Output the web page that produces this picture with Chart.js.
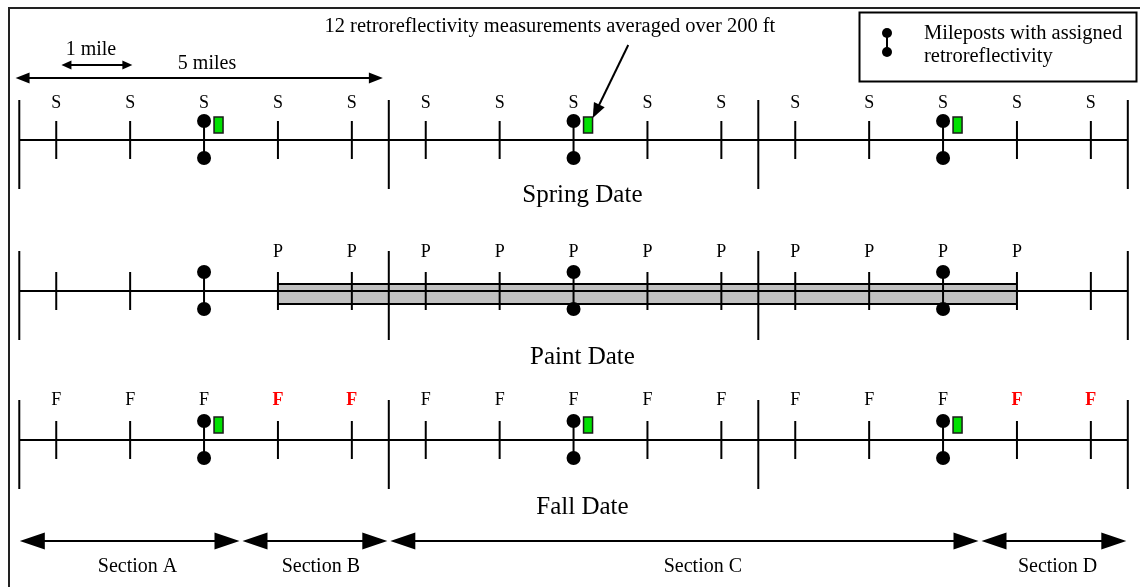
<!DOCTYPE html>
<html><head><meta charset="utf-8">
<script src="https://cdn.jsdelivr.net/npm/chart.js@4/dist/chart.umd.min.js"></script>
<style>html,body{margin:0;padding:0;background:#fff}#wrap{width:1140px;height:587px;position:relative}</style>
</head><body><div id="wrap"><canvas id="c"></canvas></div>
<script>
// ---- data (miles) ----
const sectionBounds = [0, 5, 10, 15];
const mileposts = [0.5,1.5,2.5,3.5,4.5,5.5,6.5,7.5,8.5,9.5,10.5,11.5,12.5,13.5,14.5];
const measuredMileposts = [2.5, 7.5, 12.5];
const springLabels = ['S','S','S','S','S','S','S','S','S','S','S','S','S','S','S'];
const paintLabels  = ['','','','P','P','P','P','P','P','P','P','P','P','P',''];
const fallLabels   = ['F','F','F','F','F','F','F','F','F','F','F','F','F','F','F'];
const fallFlagged  = [3.5, 4.5, 13.5, 14.5];
const paintStart = 3.5, paintEnd = 13.5;
const sectionNames  = ['Section A','Section B','Section C','Section D'];
const sectionStarts = [0, 3, 5, 13];
const sectionEnds   = [3, 5, 13, 15];
const rowTitles = ['Spring Date','Paint Date','Fall Date'];
const oneMileArrow = [0.57, 1.53];
const fiveMileArrow = [-0.05, 4.92];

// ---- layout (pixels on the y scale) ----
const rows = [
  {line:140, labels:springLabels, labelY:103, titleY:195, rect:true},
  {line:291, labels:paintLabels,  labelY:252, titleY:357, rect:false},
  {line:440, labels:fallLabels,   labelY:400, titleY:507, rect:true}
];
const FONT = '"Liberation Serif","Times New Roman",serif';

const datasets = [];
function seg(pts, w, color){
  datasets.push({data:pts, borderColor:color||'#000', borderWidth:w||2, pointRadius:0, fill:false, clip:false, spanGaps:false, tension:0});
}
rows.forEach(r=>{
  // measured milepost dots + connectors
  datasets.push({data:measuredMileposts.flatMap(m=>[{x:m,y:r.line-19},{x:m,y:r.line+18}]), showLine:false,
    pointStyle:'circle', pointRadius:7, pointBackgroundColor:'#000', pointBorderWidth:0, clip:false});
  seg(measuredMileposts.flatMap(m=>[{x:m,y:r.line-19},{x:m,y:r.line+18},{x:m,y:null}]), 2);
  // small ticks
  datasets.push({data:mileposts.filter(m=>!measuredMileposts.includes(m)).map(m=>({x:m,y:r.line})), showLine:false,
    pointStyle:'line', rotation:90, pointRadius:19, pointBorderColor:'#000', pointBorderWidth:2, clip:false});
  // section boundary ticks
  seg(sectionBounds.flatMap(b=>[{x:b,y:r.line-40},{x:b,y:r.line+49},{x:b,y:null}]), 2);
  // main line
  seg([{x:sectionBounds[0],y:r.line},{x:sectionBounds[sectionBounds.length-1],y:r.line}], 2);
});
// paint band (drawn first -> last datasets)
datasets.push({data:[{x:paintStart,y:284},{x:paintEnd,y:284}], borderColor:'#000', borderWidth:2, pointRadius:0, fill:false, clip:false});
datasets.push({data:[{x:paintStart,y:304},{x:paintEnd,y:304}], borderColor:'#000', borderWidth:2, pointRadius:0,
  fill:'-1', backgroundColor:'#c0c0c0', clip:false});

function arrowHead(ctx, tx, ty, dx, dy, len, half){
  const bx = tx - dx*len, by = ty - dy*len;
  ctx.beginPath(); ctx.moveTo(tx,ty);
  ctx.lineTo(bx - dy*half, by + dx*half); ctx.lineTo(bx + dy*half, by - dx*half);
  ctx.closePath(); ctx.fill();
}
function hArrow(ctx, x1, x2, y, len, half, lw){
  ctx.lineWidth = lw; ctx.beginPath(); ctx.moveTo(x1+len*0.6, y); ctx.lineTo(x2-len*0.6, y); ctx.stroke();
  arrowHead(ctx, x1, y, -1, 0, len, half); arrowHead(ctx, x2, y, 1, 0, len, half);
}

const overlay = {
  id:'overlay',
  afterDatasetsDraw(chart){
    const ctx = chart.ctx, xs = chart.scales.x, ys = chart.scales.y;
    const px = v => xs.getPixelForValue(v), py = v => ys.getPixelForValue(v);
    ctx.save();
    ctx.fillStyle = '#000'; ctx.strokeStyle = '#000';
    // frame
    ctx.lineWidth = 2; ctx.strokeStyle = '#222';
    ctx.beginPath(); ctx.moveTo(9, 587); ctx.lineTo(9, 8); ctx.lineTo(1140, 8); ctx.stroke();
    ctx.strokeStyle = '#000';
    // green measurement boxes
    rows.forEach(r=>{
      if(!r.rect) return;
      measuredMileposts.forEach(m=>{
        const cx = px(m) + 14.5, top = py(r.line - 23);
        ctx.fillStyle = '#00e000'; ctx.fillRect(cx-4.5, top, 9, 16);
        ctx.lineWidth = 1.5; ctx.strokeStyle = '#1a1a1a'; ctx.strokeRect(cx-4.5, top, 9, 16);
      });
    });
    ctx.strokeStyle = '#000'; ctx.fillStyle = '#000';
    // milepost labels
    ctx.textAlign = 'center'; ctx.textBaseline = 'middle';
    rows.forEach((r,ri)=>{
      r.labels.forEach((lab,i)=>{
        if(!lab) return;
        const flagged = ri === 2 && fallFlagged.includes(mileposts[i]);
        ctx.font = (flagged ? 'bold ' : '') + '18px ' + FONT;
        ctx.fillStyle = flagged ? '#ff0000' : '#000';
        ctx.fillText(lab, px(mileposts[i]), py(r.labelY));
      });
      ctx.fillStyle = '#000';
      ctx.font = '25px ' + FONT;
      ctx.fillText(rowTitles[ri], px(7.62), py(r.titleY));
    });
    // scale arrows
    hArrow(ctx, px(oneMileArrow[0]), px(oneMileArrow[1]), py(65), 10, 4.5, 2);
    hArrow(ctx, px(fiveMileArrow[0]), px(fiveMileArrow[1]), py(78), 14, 5.5, 2);
    ctx.font = '20px ' + FONT;
    ctx.fillText('1 mile', px(0.97), py(50));
    ctx.fillText('5 miles', px(2.54), py(64));
    // annotation
    ctx.font = '20.5px ' + FONT;
    ctx.fillText('12 retroreflectivity measurements averaged over 200 ft', px(7.18), py(27));
    {
      const x1 = px(8.24), y1 = py(45), x2 = px(7.76), y2 = py(118);
      const L = Math.hypot(x2-x1, y2-y1), dx = (x2-x1)/L, dy = (y2-y1)/L;
      ctx.lineWidth = 2; ctx.beginPath(); ctx.moveTo(x1,y1); ctx.lineTo(x2-dx*10, y2-dy*10); ctx.stroke();
      arrowHead(ctx, x2, y2, dx, dy, 15, 6);
    }
    // legend
    ctx.lineWidth = 2; ctx.strokeRect(859.5, 12.5, 277, 69);
    ctx.beginPath(); ctx.moveTo(887, 33); ctx.lineTo(887, 52); ctx.stroke();
    [33, 52].forEach(y=>{ ctx.beginPath(); ctx.arc(887, y, 5, 0, Math.PI*2); ctx.fill(); });
    ctx.textAlign = 'left'; ctx.font = '20.5px ' + FONT;
    ctx.fillText('Mileposts with assigned', 924, 34);
    ctx.fillText('retroreflectivity', 924, 57);
    // sections
    ctx.textAlign = 'center';
    sectionNames.forEach((n,i)=>{
      const a = px(sectionStarts[i]) + (i>0?1.5:0.5), b = px(sectionEnds[i]) - 1.5;
      hArrow(ctx, a, b, py(541), 25, 8.5, 2);
      ctx.font = '20px ' + FONT;
      const offs = [0.1, 0.08, 0.25, 0.05][i];
      ctx.fillText(n, px((sectionStarts[i]+sectionEnds[i])/2 + offs), py(567));
    });
    ctx.restore();
  }
};

new Chart(document.getElementById('c'), {
  type:'line',
  data:{datasets},
  options:{
    responsive:true, maintainAspectRatio:false, animation:false, events:[],
    layout:{padding:0, autoPadding:false},
    plugins:{legend:{display:false}, tooltip:{enabled:false}},
    scales:{
      x:{type:'linear', display:false, min:-0.261, max:15.165},
      y:{type:'linear', display:false, min:0, max:587, reverse:true}
    }
  },
  plugins:[overlay]
});
</script></body></html>
